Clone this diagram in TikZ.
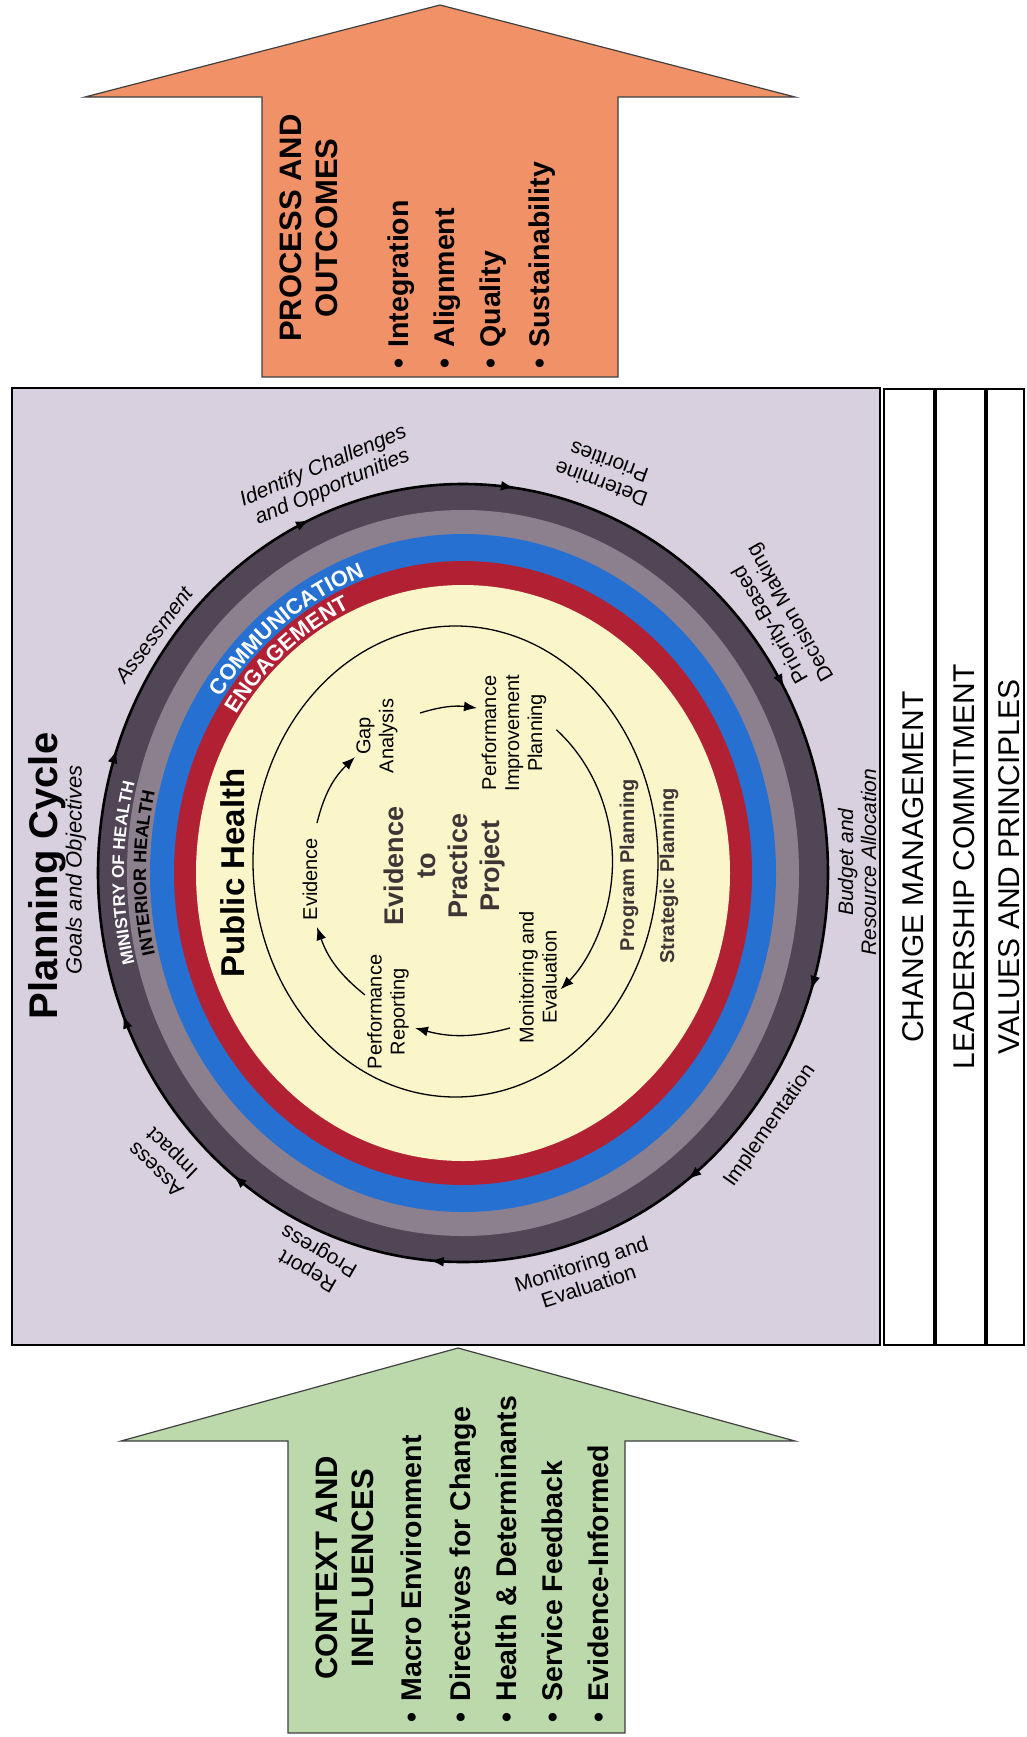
\documentclass[tikz,border=0pt]{standalone}
\usepackage{fontspec}
\setmainfont{Liberation Sans}
\usetikzlibrary{arrows.meta,decorations.markings,decorations.text}
\definecolor{lav}{RGB}{216,208,222}
\definecolor{orangearr}{RGB}{241,145,104}
\definecolor{greenarr}{RGB}{188,217,171}
\definecolor{darkring}{RGB}{80,70,86}
\definecolor{grayring}{RGB}{140,128,142}
\definecolor{bluering}{RGB}{38,112,210}
\definecolor{redring}{RGB}{178,32,52}
\definecolor{pale}{RGB}{250,246,202}
\definecolor{txtdark}{RGB}{62,54,54}
\newcommand{\fsz}[2]{\fontsize{#1pt}{#2pt}\selectfont}
\begin{document}
\begin{tikzpicture}[x=1pt,y=1pt,
  arrowbody/.style={draw=black!75, line width=1.2pt, line join=miter},
  arrtitle/.style={rotate=90, inner sep=0pt, align=center, font=\fsz{31}{36}\bfseries},
  arritem/.style={rotate=90, inner sep=0pt, anchor=base west, font=\fsz{28.5}{34}\bfseries},
  bartext/.style={rotate=90, inner sep=0pt, font=\fsz{30}{34}},
  lbl/.style={inner sep=0pt, align=center, font=\fsz{21}{23}},
  ilbl/.style={inner sep=0pt, align=center, font=\fsz{21}{23}\itshape},
  innertxt/.style={rotate=90, inner sep=0pt, align=center, font=\fsz{20}{23}},
  thinline/.style={line width=1.3pt},
  tiparrow/.style={-{Latex[length=13pt,width=10pt]}},
  ringmark/.style={decoration={markings,
    mark=at position 0.05 with {\arrow{Latex[length=14pt,width=10pt]}},
    mark=at position 0.147 with {\arrow{Latex[length=14pt,width=10pt]}},
    mark=at position 0.264 with {\arrow{Latex[length=14pt,width=10pt]}},
    mark=at position 0.356 with {\arrow{Latex[length=14pt,width=10pt]}},
    mark=at position 0.439 with {\arrow{Latex[length=14pt,width=10pt]}},
    mark=at position 0.553 with {\arrow{Latex[length=14pt,width=10pt]}},
    mark=at position 0.683 with {\arrow{Latex[length=14pt,width=10pt]}},
    mark=at position 0.772 with {\arrow{Latex[length=14pt,width=10pt]}},
    mark=at position 0.919 with {\arrow{Latex[length=14pt,width=10pt]}}},
    postaction={decorate}},
]
\useasboundingbox (0,0) rectangle (1026,-1737);
\fill[white] (0,0) rectangle (1026,-1737);

% main panel
\draw[fill=lav, line width=1.8pt] (12,-388) rectangle (880,-1345);

% side bars
\foreach \a/\b/\t [count=\i] in {884/934/CHANGE MANAGEMENT, 936/985/LEADERSHIP COMMITMENT, 987/1024/VALUES AND PRINCIPLES}{
  \draw[fill=white, line width=1.8pt] (\a,-389) rectangle (\b,-1345);
  \node[bartext] (bar\i) at ({(\a+\b)/2+4},-867) {\t};
}

% orange arrow
\draw[arrowbody, fill=orangearr] (440,-5) -- (795,-97) -- (618,-97) -- (618,-377) -- (262,-377) -- (262,-97) -- (85,-97) -- cycle;
\node[arrtitle] (ptitle) at (309,-228) {PROCESS AND\\OUTCOMES};
\foreach \t/\x [count=\i] in {Integration/408, Alignment/454, Quality/500, Sustainability/549}
  \node[arritem] (po\i) at (\x,-369) {\textbullet\hspace{0.4em}\t};

% green arrow
\draw[arrowbody, fill=greenarr] (458,-1348) -- (795,-1441) -- (625,-1441) -- (625,-1733) -- (288,-1733) -- (288,-1441) -- (121,-1441) -- cycle;
\node[arrtitle] (gtitle) at (345,-1568) {CONTEXT AND\\INFLUENCES};
\foreach \t/\x [count=\i] in {Macro Environment/421, Directives for Change/470, Health \& Determinants/516, Service Feedback/562, Evidence-Informed/608}
  \node[arritem] (gi\i) at (\x,-1723) {\textbullet\hspace{0.4em}\t};

% rings
\coordinate (C) at (463,-873);
\fill[darkring] (C) ellipse [x radius=365pt, y radius=389pt];
\fill[grayring] (C) ellipse [x radius=336pt, y radius=363pt];
\fill[bluering] (C) ellipse [x radius=313pt, y radius=339pt];
\fill[redring] (C) ellipse [x radius=289pt, y radius=312pt];
\fill[pale] (C) ellipse [x radius=267pt, y radius=288pt];
\draw[line width=2.6pt, ringmark] ([shift={(0:365pt and 389pt)}]C) arc [start angle=360, end angle=0, x radius=365pt, y radius=389pt];

% ring texts
\path[decorate, decoration={text along path, text align=center, text color=white,
  text={|\fontsize{17pt}{17pt}\selectfont\bfseries|MINISTRY OF HEALTH}}]
  ([shift={(205:339pt and 364pt)}]C) arc [start angle=205, end angle=155, x radius=339pt, y radius=364pt];
\path[decorate, decoration={text along path, text align=center, text color=black,
  text={|\fontsize{18pt}{18pt}\selectfont\bfseries|INTERIOR HEALTH}}]
  ([shift={(205:317pt and 342pt)}]C) arc [start angle=205, end angle=155, x radius=317pt, y radius=342pt];
\path[decorate, decoration={text along path, text align=center, text color=white,
  text={|\fontsize{22pt}{22pt}\selectfont\bfseries|COMMUNICATION}}]
  ([shift={(172:292pt and 315pt)}]C) arc [start angle=172, end angle=82, x radius=292pt, y radius=315pt];
\path[decorate, decoration={text along path, text align=center, text color=white,
  text={|\fontsize{22pt}{22pt}\selectfont\bfseries|ENGAGEMENT}}]
  ([shift={(175:270pt and 291pt)}]C) arc [start angle=175, end angle=85, x radius=270pt, y radius=291pt];

% outer labels
\node[ilbl, rotate=23] (l1) at (328,-477) {Identify Challenges\\and Opportunities};
\node[ilbl, rotate=53] (l2) at (154,-635) {Assessment};
\node[lbl, rotate=160] (l3) at (605,-473) {Determine\\Priorities};
\node[lbl, rotate=120] (l4) at (781,-618) {Priority-Based\\Decision Making};
\node[ilbl, rotate=90] (l5) at (857,-862) {Budget and\\Resource Allocation};
\node[lbl, rotate=55] (l6) at (770,-1126) {Implementation};
\node[lbl, rotate=18] (l7) at (585,-1275) {Monitoring and\\Evaluation};
\node[lbl, rotate=150] (l8) at (314,-1260) {Report\\Progress};
\node[lbl, rotate=136] (l9) at (165,-1160) {Assess\\Impact};

% titles
\node[rotate=90, inner sep=0pt, font=\fsz{40}{44}\bfseries] (pc) at (47,-876) {Planning Cycle};
\node[rotate=90, inner sep=0pt, font=\fsz{22}{24}\itshape] (go) at (76,-870) {Goals and Objectives};

% inner content
\node[rotate=90, inner sep=0pt, font=\fsz{33}{36}\bfseries] (ph) at (233,-873) {Public Health};
\coordinate (IC) at (455.5,-861.5);
\draw[thinline] (IC) ellipse [x radius=202.5pt, y radius=235.5pt];
\draw[thinline, tiparrow] ([shift={(50:157pt and 172pt)}]IC) arc [start angle=50, end angle=-48, x radius=157pt, y radius=172pt];

\node[innertxt] (ev) at (310,-879) {Evidence};
\node[innertxt] (ga) at (377,-736) {Gap\\Analysis};
\node[innertxt] (pip) at (514,-733) {Performance\\Improvement\\Planning};
\node[innertxt] (me) at (538,-977) {Monitoring and\\Evaluation};
\node[innertxt] (pr) at (388,-1012) {Performance\\Reporting};
\node[rotate=90, inner sep=0pt, align=center, font=\fsz{27}{32}\bfseries, text=txtdark] (etp) at (445,-866) {Evidence\\to\\Practice\\Project};
\node[rotate=90, inner sep=0pt, font=\fsz{20}{22}\bfseries, text=txtdark] (pp) at (629,-865) {Program Planning};
\node[rotate=90, inner sep=0pt, font=\fsz{20}{22}\bfseries, text=txtdark] (sp) at (669,-876) {Strategic Planning};

\coordinate (a1) at (317,-823); \coordinate (a2) at (355,-757);
\coordinate (b1) at (420,-713); \coordinate (b2) at (477,-708);
\coordinate (c1) at (510,-1028); \coordinate (c2) at (415,-1028);
\coordinate (d1) at (365,-995); \coordinate (d2) at (317,-927);
\draw[thinline, tiparrow] (a1) to[bend left=16] (a2);
\draw[thinline, tiparrow] (b1) to[bend left=12] (b2);
\draw[thinline, tiparrow] (c1) to[bend left=15] (c2);
\draw[thinline, tiparrow] (d1) to[bend left=16] (d2);
\end{tikzpicture}
\end{document}
